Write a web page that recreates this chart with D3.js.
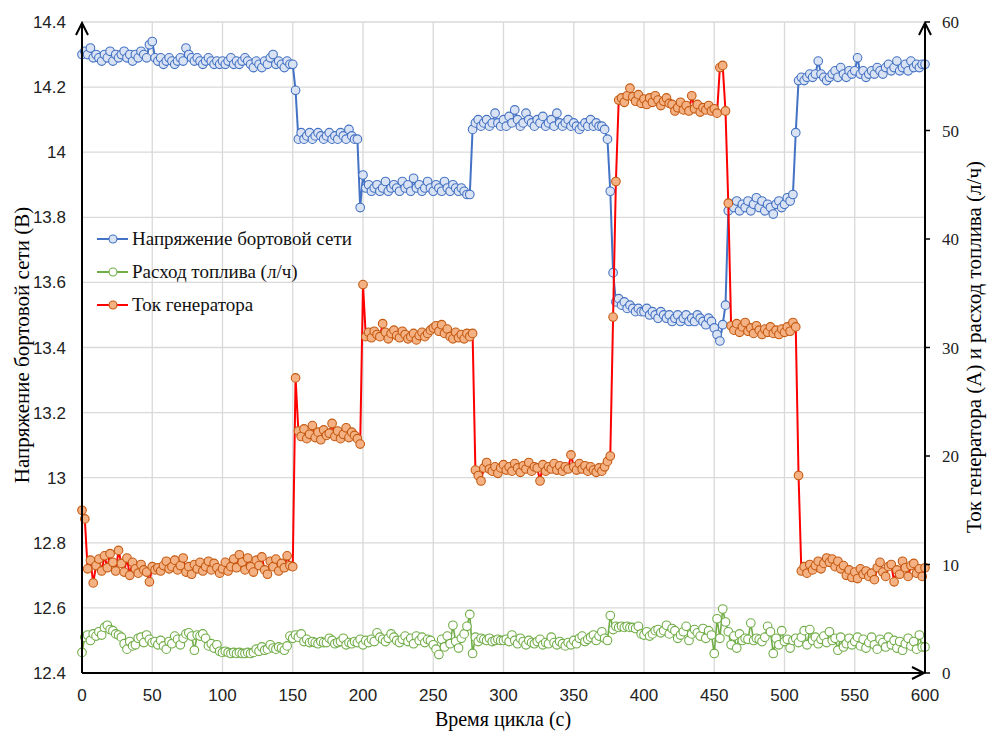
<!DOCTYPE html>
<html>
<head>
<meta charset="utf-8">
<script src="https://cdnjs.cloudflare.com/ajax/libs/d3/7.8.5/d3.min.js"></script>
<style>
  body { margin: 0; background: #fff; }
  .sans { font-family: "Liberation Sans", Arial, sans-serif; }
  .serif { font-family: "Liberation Serif", "Times New Roman", serif; }
</style>
</head>
<body>
<svg id="chart"></svg>
<script>
// sampling step of the record, seconds
var STEP = 2;

// Напряжение бортовой сети (В), t = 0, 2, ... 600
var voltage = [
  14.30,14.31,14.30,14.32,14.29,14.30,14.29,14.28,14.30,14.29,14.31,14.28,14.30,14.29,14.30,14.31,14.29,14.30,14.28,14.30,14.29,14.31,14.30,14.29,14.33,
  14.34,14.29,14.28,14.29,14.27,14.28,14.29,14.28,14.27,14.28,14.29,14.28,14.32,14.30,14.29,14.28,14.29,14.28,14.27,14.28,14.29,14.28,14.27,14.28,14.27,
  14.28,14.27,14.28,14.29,14.27,14.28,14.27,14.28,14.29,14.28,14.27,14.26,14.28,14.27,14.26,14.28,14.27,14.29,14.30,14.27,14.28,14.27,14.26,14.28,14.27,
  14.27,14.19,14.04,14.06,14.04,14.05,14.06,14.04,14.05,14.06,14.05,14.04,14.05,14.06,14.04,14.05,14.04,14.06,14.05,14.04,14.07,14.05,14.04,14.04,13.83,
  13.93,13.89,13.90,13.88,13.89,13.90,13.88,13.89,13.91,13.88,13.89,13.90,13.89,13.88,13.91,13.89,13.90,13.88,13.92,13.89,13.90,13.88,13.89,13.91,13.89,
  13.88,13.90,13.89,13.88,13.91,13.89,13.88,13.90,13.89,13.88,13.89,13.88,13.87,13.87,14.07,14.09,14.10,14.08,14.09,14.10,14.08,14.09,14.12,14.09,14.08,
  14.10,14.08,14.11,14.09,14.13,14.10,14.08,14.09,14.12,14.10,14.09,14.08,14.10,14.09,14.11,14.08,14.09,14.10,14.08,14.12,14.09,14.08,14.09,14.10,14.08,
  14.09,14.08,14.07,14.08,14.09,14.08,14.10,14.08,14.09,14.08,14.08,14.07,14.04,13.88,13.63,13.54,13.55,13.53,13.54,13.52,13.53,13.52,13.51,13.52,13.51,
  13.51,13.52,13.50,13.51,13.50,13.49,13.51,13.50,13.49,13.50,13.48,13.49,13.50,13.48,13.49,13.50,13.48,13.49,13.48,13.50,13.49,13.48,13.47,13.49,13.48,
  13.46,13.44,13.42,13.47,13.53,13.82,13.84,13.83,13.85,13.82,13.84,13.83,13.85,13.82,13.84,13.86,13.83,13.85,13.82,13.84,13.83,13.81,13.84,13.85,13.83,
  13.84,13.86,13.85,13.87,14.06,14.22,14.23,14.22,14.23,14.24,14.23,14.24,14.28,14.24,14.23,14.22,14.23,14.24,14.25,14.23,14.26,14.24,14.23,14.25,14.24,
  14.25,14.29,14.24,14.25,14.23,14.24,14.25,14.24,14.26,14.25,14.24,14.26,14.27,14.25,14.26,14.28,14.25,14.26,14.27,14.25,14.28,14.26,14.27,14.26,14.27,14.27
];

// Расход топлива (л/ч)
var fuel = [
  1.9,3.3,3.5,3.0,3.6,3.4,3.8,3.5,4.2,4.4,4.0,3.9,3.6,3.5,3.3,2.7,2.2,2.9,2.5,2.6,3.2,3.3,2.8,3.5,3.1,
  2.8,2.9,2.6,3.0,2.5,2.2,2.9,2.7,3.4,3.1,2.6,3.2,3.6,3.7,3.4,2.1,3.5,3.4,3.6,3.2,2.5,2.7,2.3,2.6,2.0,
  1.9,2.0,1.9,1.8,1.9,1.8,1.9,1.8,1.8,1.9,1.8,1.9,2.2,2.0,2.4,2.1,2.2,2.6,2.3,2.2,2.4,2.3,2.1,2.5,3.4,
  3.2,3.5,3.3,3.6,2.9,3.1,2.8,2.9,2.8,2.7,2.9,2.8,2.8,3.2,3.0,2.7,2.8,2.9,3.2,2.6,2.8,2.7,2.9,2.8,3.1,
  2.6,3.0,2.8,3.1,2.9,3.7,3.3,3.1,2.9,3.2,3.6,3.3,3.0,2.8,3.1,3.4,2.9,3.2,2.7,3.4,3.0,3.3,2.8,3.1,3.0,
  2.6,2.2,1.7,3.1,2.4,3.4,2.7,4.4,2.9,2.3,3.2,3.6,4.3,5.4,1.8,3.3,2.9,3.2,3.1,3.0,3.2,2.9,3.0,3.1,3.0,
  3.0,3.1,2.9,3.5,3.0,2.7,3.2,2.9,2.6,3.0,2.8,2.7,2.9,3.1,2.6,2.8,2.7,3.3,2.8,2.6,2.9,2.7,2.5,2.8,2.6,
  3.0,2.7,3.2,3.4,2.9,3.1,3.3,3.5,3.0,3.4,3.8,3.2,3.0,5.3,4.0,4.3,4.2,4.3,4.2,4.3,4.2,4.2,4.1,4.3,3.6,
  3.5,3.8,3.4,3.6,3.9,4.0,3.7,3.9,4.4,3.6,4.1,3.9,3.2,3.5,3.8,4.3,3.0,3.6,4.0,3.7,3.4,4.1,3.2,3.9,3.5,
  1.8,5.0,3.2,5.9,4.7,3.8,2.6,3.4,2.3,3.6,3.0,3.2,3.1,4.6,3.0,3.2,3.1,2.9,3.3,4.3,3.8,1.8,3.2,2.6,3.9,
  2.9,3.1,2.3,3.0,3.2,2.8,3.3,3.9,2.6,4.0,3.0,3.3,2.7,3.1,3.4,2.8,3.8,3.0,3.2,2.1,3.3,2.4,2.7,3.2,2.6,
  2.9,3.3,2.5,3.1,2.3,2.8,3.3,2.6,2.2,3.1,2.8,2.4,3.3,2.6,3.0,2.3,2.9,2.1,2.7,3.2,2.5,2.9,2.2,3.5,2.4,2.4
];

// Ток генератора (А)
var current = [
  15.0,14.2,9.6,10.4,8.3,9.9,10.5,9.4,10.8,9.7,11.0,10.2,9.4,11.3,10.1,9.3,10.6,9.0,10.2,9.6,9.2,10.0,9.5,9.3,8.4,
  9.8,9.5,9.7,9.4,9.9,10.3,9.6,9.8,10.4,9.5,9.9,10.6,9.3,9.8,9.1,10.0,9.6,10.2,9.4,9.8,10.3,9.5,10.1,9.7,9.2,
  9.6,10.2,9.4,9.8,10.5,9.7,10.9,10.2,9.5,10.6,9.8,9.3,10.4,9.9,10.7,9.5,9.1,10.3,9.8,10.5,9.4,10.1,9.7,10.8,9.9,
  9.8,27.2,22.3,21.8,22.5,21.6,22.0,22.8,21.7,22.2,21.5,22.4,21.9,22.1,23.0,21.8,22.3,21.6,22.0,22.6,21.7,22.2,21.9,21.6,21.1,
  35.8,31.0,31.4,30.9,31.5,31.2,31.0,32.2,31.4,30.8,31.3,31.6,31.1,30.9,31.5,31.2,30.8,31.0,31.3,30.7,31.1,31.4,31.0,31.3,31.6,
  31.8,32.0,31.5,32.1,31.3,31.7,31.0,30.8,31.4,30.9,31.2,30.8,31.3,31.0,31.3,18.7,18.2,17.7,18.9,19.4,18.8,18.6,19.0,18.4,18.9,
  19.2,18.7,19.0,18.6,19.3,18.9,18.5,19.1,18.8,19.4,18.6,19.0,18.9,17.7,19.2,18.6,19.0,18.8,19.3,18.7,19.1,18.6,19.0,18.8,20.1,
  19.0,18.7,19.3,18.8,19.1,18.6,19.0,18.7,18.5,18.9,18.6,19.0,19.5,20.0,32.8,45.3,52.8,53.0,52.6,53.2,53.9,53.1,52.7,53.3,52.5,
  52.9,52.4,53.0,52.6,53.2,52.8,52.3,52.7,53.0,52.5,52.4,51.8,52.1,52.6,51.9,52.3,51.8,53.2,52.0,52.4,51.7,52.1,51.9,52.3,51.8,
  52.0,51.6,55.8,56.0,51.8,43.3,32.0,31.6,32.2,31.4,31.9,32.3,31.5,31.8,31.3,32.0,31.6,31.2,31.7,31.4,31.9,31.3,31.6,31.2,31.7,
  31.4,31.9,31.5,32.3,31.9,18.2,9.4,9.8,9.2,10.0,9.5,9.9,10.3,9.6,10.1,10.6,10.2,10.5,9.8,10.3,9.6,9.9,9.0,9.5,8.8,
  9.3,8.7,9.6,9.1,9.4,8.9,9.2,8.6,9.7,10.2,9.3,8.9,9.8,10.0,8.4,9.5,9.1,10.3,9.7,8.9,9.9,10.1,9.2,9.6,8.9,9.7
];

var xTicks = [0, 50, 100, 150, 200, 250, 300, 350, 400, 450, 500, 550, 600];
var vTicks = [12.4, 12.6, 12.8, 13, 13.2, 13.4, 13.6, 13.8, 14, 14.2, 14.4];
var rTicks = [0, 10, 20, 30, 40, 50, 60];

var legendNames = ['Напряжение бортовой сети', 'Расход топлива (л/ч)', 'Ток генератора'];

var W = 987, H = 731;
var pL = 82, pR = 925, pT = 22, pB = 673;

var svg = d3.select('#chart').attr('width', W).attr('height', H);

var x = d3.scaleLinear().domain([0, 600]).range([pL, pR]);
var yV = d3.scaleLinear().domain([12.4, 14.4]).range([pB, pT]);
var yR = d3.scaleLinear().domain([0, 60]).range([pB, pT]);

// grid
svg.append('g').selectAll('line')
  .data(xTicks).enter().append('line')
  .attr('x1', function(d) { return x(d); }).attr('x2', function(d) { return x(d); })
  .attr('y1', pT).attr('y2', pB)
  .attr('stroke', '#d9d9d9').attr('stroke-width', 1.3);
svg.append('g').selectAll('line')
  .data(vTicks).enter().append('line')
  .attr('x1', pL).attr('x2', pR)
  .attr('y1', function(d) { return yV(d); }).attr('y2', function(d) { return yV(d); })
  .attr('stroke', '#d9d9d9').attr('stroke-width', 1.3);

// series
function series(vals, yScale, lineColor, lineWidth, fill, stroke) {
  var pts = vals.map(function(v, i) { return [i * STEP, v]; });
  var line = d3.line()
    .x(function(d) { return x(d[0]); })
    .y(function(d) { return yScale(d[1]); });
  var g = svg.append('g');
  g.append('path').datum(pts)
    .attr('d', line)
    .attr('fill', 'none')
    .attr('stroke', lineColor)
    .attr('stroke-width', lineWidth)
    .attr('stroke-linejoin', 'round');
  g.selectAll('circle').data(pts).enter().append('circle')
    .attr('cx', function(d) { return x(d[0]); })
    .attr('cy', function(d) { return yScale(d[1]); })
    .attr('r', 4.3)
    .attr('fill', fill)
    .attr('stroke', stroke)
    .attr('stroke-width', 1.1);
}

series(voltage, yV, '#4472C4', 2, '#DAE3F3', '#4472C4');
series(fuel, yR, '#70AD47', 1.6, '#FFFFFF', '#70AD47');
series(current, yR, '#FF0000', 2, '#F4B183', '#C55A11');

// axes
var axes = svg.append('g').attr('stroke', '#000').attr('stroke-width', 2);
axes.append('line').attr('x1', pL).attr('x2', pL).attr('y1', pB).attr('y2', pT + 2);
axes.append('line').attr('x1', pL).attr('x2', pR - 2).attr('y1', pB).attr('y2', pB);
axes.append('line').attr('x1', pR).attr('x2', pR).attr('y1', pB).attr('y2', pT + 2);

function arrow(px, py, dir) {
  var p;
  if (dir === 'up') p = [[px - 6, py + 12], [px, py], [px + 6, py + 12]];
  else p = [[px - 12, py - 6], [px, py], [px - 12, py + 6]];
  svg.append('path').attr('d', d3.line()(p))
    .attr('fill', 'none').attr('stroke', '#000').attr('stroke-width', 2);
}
arrow(pL, pT + 1, 'up');
arrow(pR, pT + 1, 'up');
arrow(pR - 1, pB, 'right');

// right axis tick marks
svg.append('g').selectAll('line').data(rTicks).enter().append('line')
  .attr('x1', pR).attr('x2', pR + 5)
  .attr('y1', function(d) { return yR(d); }).attr('y2', function(d) { return yR(d); })
  .attr('stroke', '#000').attr('stroke-width', 1.5);

// tick labels
svg.append('g').selectAll('text').data(vTicks).enter().append('text')
  .attr('class', 'sans')
  .attr('x', 66).attr('y', function(d) { return yV(d) + 6; })
  .attr('text-anchor', 'end').attr('font-size', 17).attr('fill', '#222')
  .text(function(d) { return d3.format('')(d); });

svg.append('g').selectAll('text').data(xTicks).enter().append('text')
  .attr('class', 'sans')
  .attr('x', function(d) { return x(d); }).attr('y', 701)
  .attr('text-anchor', 'middle').attr('font-size', 17).attr('fill', '#222')
  .text(function(d) { return d; });

svg.append('g').selectAll('text').data(rTicks).enter().append('text')
  .attr('class', 'serif')
  .attr('x', 942).attr('y', function(d) { return yR(d) + 6; })
  .attr('text-anchor', 'start').attr('font-size', 17).attr('fill', '#222')
  .text(function(d) { return d; });

// axis titles
svg.append('text').attr('class', 'serif')
  .attr('x', 503).attr('y', 726)
  .attr('text-anchor', 'middle').attr('font-size', 20)
  .text('Время цикла (с)');
svg.append('text').attr('class', 'serif')
  .attr('transform', 'translate(29,345) rotate(-90)')
  .attr('text-anchor', 'middle').attr('font-size', 21)
  .text('Напряжение бортовой сети (В)');
svg.append('text').attr('class', 'serif')
  .attr('transform', 'translate(981,347) rotate(-90)')
  .attr('text-anchor', 'middle').attr('font-size', 21)
  .text('Ток генератора (А) и расход топлива (л/ч)');

// legend
var legendStyle = [
  {line: '#4472C4', fill: '#DAE3F3', stroke: '#4472C4'},
  {line: '#70AD47', fill: '#FFFFFF', stroke: '#70AD47'},
  {line: '#FF0000', fill: '#F4B183', stroke: '#C55A11'}
];
var lg = svg.append('g');
legendNames.forEach(function(name, i) {
  var cy = 239 + i * 33;
  var s = legendStyle[i];
  lg.append('line').attr('x1', 97).attr('x2', 128).attr('y1', cy).attr('y2', cy)
    .attr('stroke', s.line).attr('stroke-width', 2);
  lg.append('circle').attr('cx', 113).attr('cy', cy).attr('r', 4)
    .attr('fill', s.fill).attr('stroke', s.stroke).attr('stroke-width', 1.1);
  lg.append('text').attr('class', 'serif')
    .attr('x', 132).attr('y', cy + 6)
    .attr('font-size', 19).attr('fill', '#111')
    .text(name);
});
</script>
</body>
</html>
